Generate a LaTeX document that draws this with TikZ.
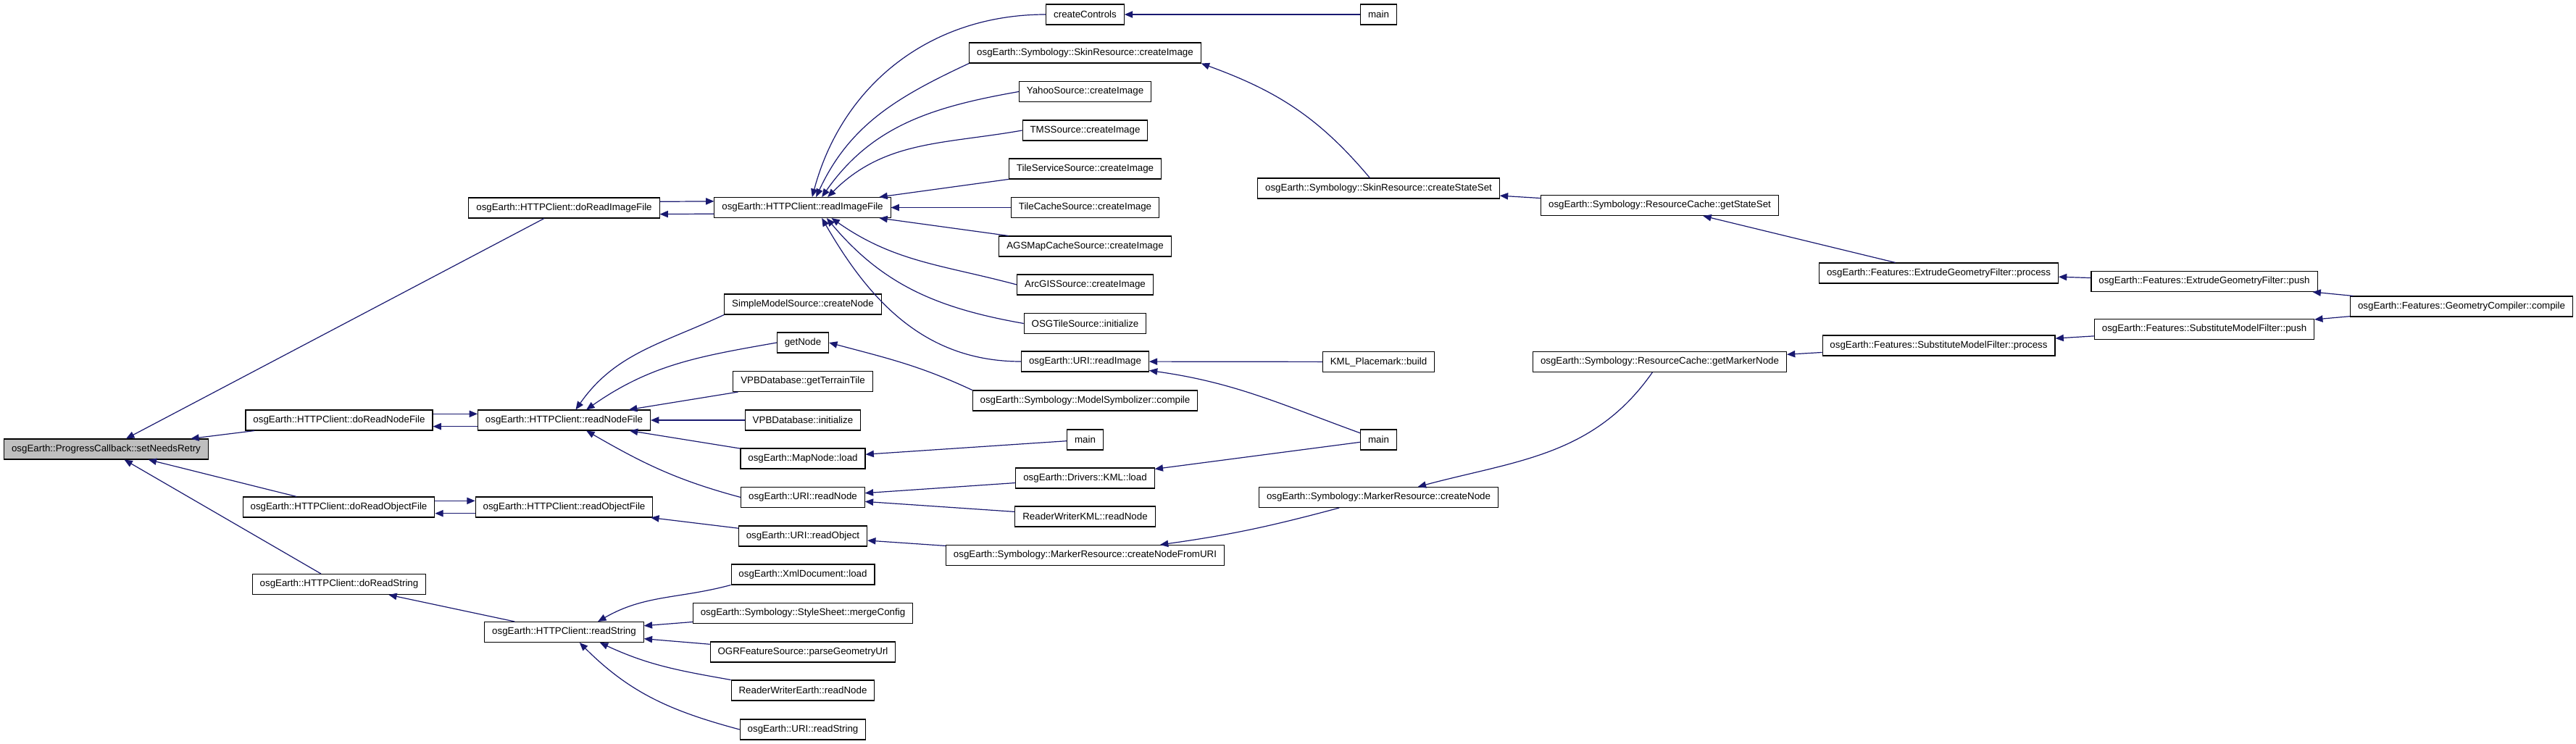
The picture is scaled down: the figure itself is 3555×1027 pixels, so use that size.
\documentclass[tikz,border=0pt]{standalone}
\usepackage{fontspec}
\setmainfont{Liberation Sans}
\usepackage{xcolor}
\usepackage{tikz}
\usetikzlibrary{arrows.meta}
\definecolor{edgeblue}{HTML}{191970}
\definecolor{rootgray}{HTML}{BFBFBF}

\begin{document}
\begin{tikzpicture}[x=0.75pt, y=0.75pt,
    fn/.style={draw, rectangle, fill=white, line width=0.8pt, minimum height=21pt, inner xsep=7.8pt, inner ysep=0pt, font=\fontsize{10}{12}\selectfont},
    call/.style={draw=edgeblue, line width=0.9pt, -{Triangle[length=8.5pt,width=7pt]}}]
    \useasboundingbox (0,0) rectangle (3555,-1027);

    \node[fn, fill=rootgray] (root) at (146.5,-620) {osgEarth::ProgressCallback::setNeedsRetry};

    \node[fn] (dImg) at (778.5,-287) {osgEarth::HTTPClient::doReadImageFile};
    \node[fn] (dNode) at (468,-580) {osgEarth::HTTPClient::doReadNodeFile};
    \node[fn] (dObj) at (467.5,-700) {osgEarth::HTTPClient::doReadObjectFile};
    \node[fn] (dStr) at (468,-806.5) {osgEarth::HTTPClient::doReadString};

    \node[fn] (rImg) at (1107.5,-286.5) {osgEarth::HTTPClient::readImageFile};
    \node[fn] (rNode) at (778.5,-580) {osgEarth::HTTPClient::readNodeFile};
    \node[fn] (rObj) at (778.5,-700) {osgEarth::HTTPClient::readObjectFile};
    \node[fn] (rStr) at (778.5,-872.5) {osgEarth::HTTPClient::readString};

    \node[fn] (simpleModel) at (1108,-420) {SimpleModelSource::createNode};
    \node[fn] (getNode) at (1108,-473) {getNode};
    \node[fn] (vpbTile) at (1108,-526.5) {VPBDatabase::getTerrainTile};
    \node[fn] (vpbInit) at (1108,-580) {VPBDatabase::initialize};
    \node[fn] (mapLoad) at (1108,-633) {osgEarth::MapNode::load};
    \node[fn] (uriNode) at (1108,-686.5) {osgEarth::URI::readNode};
    \node[fn] (uriObj) at (1108,-740) {osgEarth::URI::readObject};
    \node[fn] (xmlLoad) at (1108,-793) {osgEarth::XmlDocument::load};
    \node[fn] (mergeCfg) at (1108,-846.5) {osgEarth::Symbology::StyleSheet::mergeConfig};
    \node[fn] (parseGeom) at (1108,-900) {OGRFeatureSource::parseGeometryUrl};
    \node[fn] (rwEarth) at (1108,-953) {ReaderWriterEarth::readNode};
    \node[fn] (uriStr) at (1108,-1007) {osgEarth::URI::readString};

    \node[fn] (ctrls) at (1497.5,-20) {createControls};
    \node[fn] (skinImg) at (1497.5,-73) {osgEarth::Symbology::SkinResource::createImage};
    \node[fn] (yahoo) at (1497.5,-126.5) {YahooSource::createImage};
    \node[fn] (tms) at (1497.5,-180) {TMSSource::createImage};
    \node[fn] (tileSvc) at (1497.5,-233) {TileServiceSource::createImage};
    \node[fn] (tileCache) at (1497.5,-286.5) {TileCacheSource::createImage};
    \node[fn] (ags) at (1497.5,-340) {AGSMapCacheSource::createImage};
    \node[fn] (arcgis) at (1497.5,-393) {ArcGISSource::createImage};
    \node[fn] (osgTile) at (1497.5,-446.5) {OSGTileSource::initialize};
    \node[fn] (uriImg) at (1497.5,-499) {osgEarth::URI::readImage};
    \node[fn] (modelSym) at (1497.5,-553) {osgEarth::Symbology::ModelSymbolizer::compile};
    \node[fn] (mainB) at (1497.5,-607) {main};
    \node[fn] (kmlLoad) at (1497.5,-660) {osgEarth::Drivers::KML::load};
    \node[fn] (rwKml) at (1497.5,-713) {ReaderWriterKML::readNode};
    \node[fn] (fromUri) at (1497.5,-766.5) {osgEarth::Symbology::MarkerResource::createNodeFromURI};

    \node[fn] (mainA) at (1902.5,-20) {main};
    \node[fn] (stateSet) at (1902.5,-260) {osgEarth::Symbology::SkinResource::createStateSet};
    \node[fn] (kmlBuild) at (1902.5,-499.5) {KML\_Placemark::build};
    \node[fn] (mainC) at (1902.5,-607) {main};
    \node[fn] (markerNode) at (1902.5,-686.5) {osgEarth::Symbology::MarkerResource::createNode};

    \node[fn] (getStateSet) at (2290.5,-283.5) {osgEarth::Symbology::ResourceCache::getStateSet};
    \node[fn] (getMarker) at (2290.5,-499.5) {osgEarth::Symbology::ResourceCache::getMarkerNode};

    \node[fn] (extProc) at (2675.5,-377) {osgEarth::Features::ExtrudeGeometryFilter::process};
    \node[fn] (subProc) at (2675.5,-477) {osgEarth::Features::SubstituteModelFilter::process};
    \node[fn] (extPush) at (3042,-388.5) {osgEarth::Features::ExtrudeGeometryFilter::push};
    \node[fn] (subPush) at (3042,-454.5) {osgEarth::Features::SubstituteModelFilter::push};
    \node[fn] (geoComp) at (3397,-423) {osgEarth::Features::GeometryCompiler::compile};

    \draw[call] (dImg) -- (root);
    \draw[call] (dNode) -- (root);
    \draw[call] (dObj) -- (root);
    \draw[call] (dStr) -- (root);

    \draw[call] ([yshift=6.5pt]dImg.east) -- ([yshift=6.5pt]rImg.west);
    \draw[call] ([yshift=-6.5pt]rImg.west) -- ([yshift=-6.5pt]dImg.east);
    \draw[call] ([yshift=6.5pt]dNode.east) -- ([yshift=6.5pt]rNode.west);
    \draw[call] ([yshift=-6.5pt]rNode.west) -- ([yshift=-6.5pt]dNode.east);
    \draw[call] ([yshift=6.5pt]dObj.east) -- ([yshift=6.5pt]rObj.west);
    \draw[call] ([yshift=-6.5pt]rObj.west) -- ([yshift=-6.5pt]dObj.east);
    \draw[call] (rStr) -- (dStr);

    \draw[call] (ctrls.west) to[out=180,in=75] ([xshift=10pt]rImg.north);
    \draw[call] (skinImg.south west) to[out=205,in=65] ([xshift=14pt]rImg.north);
    \draw[call] (yahoo.west) to[out=190,in=55] ([xshift=20pt]rImg.north);
    \draw[call] (tms.west) to[out=190,in=45] ([xshift=26pt]rImg.north);
    \draw[call] (tileSvc) -- (rImg);
    \draw[call] (tileCache) -- (rImg);
    \draw[call] (ags) -- (rImg);
    \draw[call] (arcgis.west) to[out=165,in=-35] ([xshift=30pt]rImg.south);
    \draw[call] (osgTile.west) to[out=170,in=-50] ([xshift=25pt]rImg.south);
    \draw[call] (uriImg.west) to[out=180,in=-60] ([xshift=20pt]rImg.south);

    \draw[call] (simpleModel.south west) to[out=205,in=55] ([xshift=12pt]rNode.north);
    \draw[call] (getNode.west) to[out=190,in=35] ([xshift=23pt]rNode.north);
    \draw[call] (vpbTile) -- (rNode);
    \draw[call] (vpbInit) -- (rNode);
    \draw[call] (mapLoad) -- (rNode);
    \draw[call] (uriNode.west) to[out=165,in=-30] ([xshift=23pt]rNode.south);
    \draw[call] (uriObj) -- (rObj);

    \draw[call] (xmlLoad.south west) to[out=195,in=30] ([xshift=35pt]rStr.north);
    \draw[call] (mergeCfg) -- (rStr);
    \draw[call] (parseGeom) -- (rStr);
    \draw[call] (rwEarth.north west) to[out=170,in=-25] ([xshift=37pt]rStr.south);
    \draw[call] (uriStr.west) to[out=165,in=-45] ([xshift=16pt]rStr.south);

    \draw[call] (modelSym.north west) to[out=155,in=-15] (getNode.east);
    \draw[call] (kmlBuild) -- (uriImg);
    \draw[call] (mainC) to[out=160,in=-8] (uriImg);
    \draw[call] (mainC) -- (kmlLoad);
    \draw[call] (mainB) -- (mapLoad);
    \draw[call] (kmlLoad) -- (uriNode);
    \draw[call] (rwKml) -- (uriNode);
    \draw[call] (fromUri) -- (uriObj);
    \draw[call] (markerNode) to[out=195,in=8] (fromUri);
    \draw[call] (getMarker) to[out=235,in=15] (markerNode);

    \draw[call] (subProc) -- (getMarker);
    \draw[call] (subPush) -- (subProc);
    \draw[call] (geoComp) -- (subPush);
    \draw[call] (geoComp) -- (extPush);
    \draw[call] (extPush) -- (extProc);
    \draw[call] (extProc) -- (getStateSet);
    \draw[call] (getStateSet) -- (stateSet);
    \draw[call] (stateSet) to[out=130,in=-20] (skinImg.south east);
    \draw[call] (mainA) -- (ctrls);
\end{tikzpicture}
\end{document}
